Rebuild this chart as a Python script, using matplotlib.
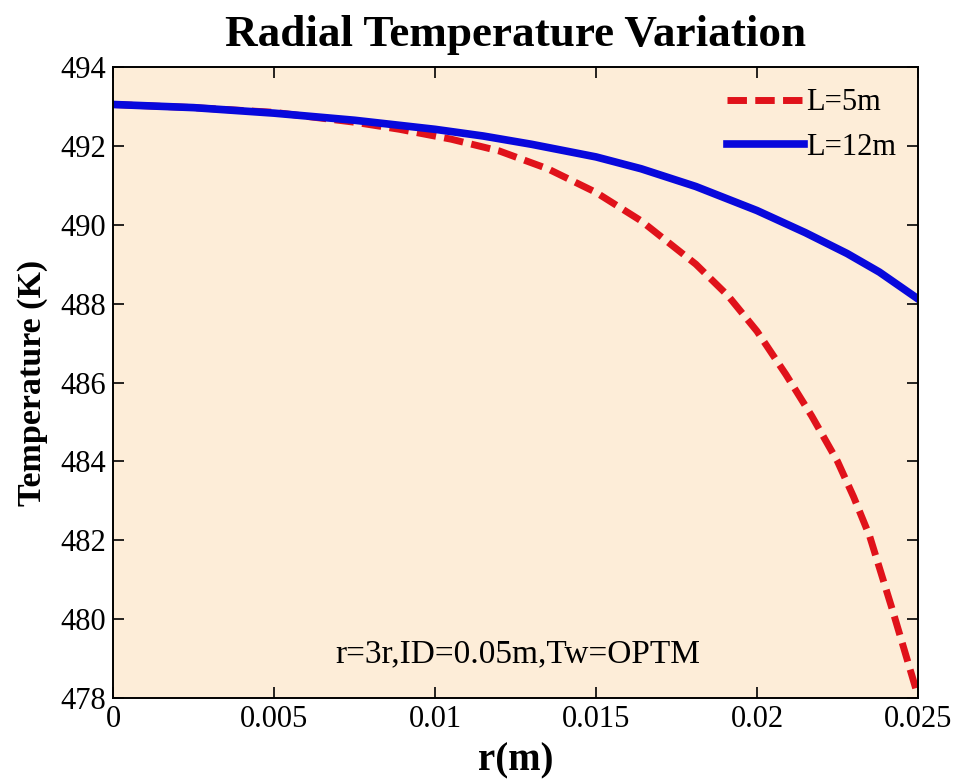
import matplotlib
matplotlib.use("Agg")
import matplotlib.pyplot as plt

# readings
r_5m = [0, 0.0025, 0.005, 0.0075, 0.0089, 0.0105, 0.012, 0.0135, 0.015, 0.0164, 0.0181, 0.0191, 0.02, 0.0209,
        0.0217, 0.0225, 0.023, 0.0235, 0.0242, 0.025]
T_5m = [493.05, 492.97, 492.85, 492.6, 492.42, 492.17, 491.87, 491.42, 490.82, 490.1, 489.0, 488.2, 487.3, 486.2,
        485.15, 484.0, 483.1, 482.1, 480.25, 478.05]

r_12m = [0, 0.0025, 0.005, 0.0075, 0.01, 0.0115, 0.013, 0.015, 0.0164, 0.0181, 0.02, 0.0215, 0.0228, 0.0238, 0.025]
T_12m = [493.05, 492.97, 492.83, 492.65, 492.42, 492.25, 492.04, 491.72, 491.42, 490.97, 490.36, 489.8, 489.27, 488.8, 488.12]

x_ticks = [0, 0.005, 0.01, 0.015, 0.02, 0.025]
x_tick_labels = ["0", "0.005", "0.01", "0.015", "0.02", "0.025"]
y_ticks = [478, 480, 482, 484, 486, 488, 490, 492, 494]

plt.rcParams['font.family'] = ['Liberation Serif', 'DejaVu Serif']

fig = plt.figure(figsize=(9.61, 7.81), dpi=100)
ax = fig.add_axes([113/961, 1 - 698/781, (918-113)/961, (698-67)/781])
ax.set_facecolor('#FDEDD8')

ax.plot(r_5m, T_5m, color='#E0121A', linestyle='--', lw=5.0, dashes=(2.8, 1.2), label='L=5m')
ax.plot(r_12m, T_12m, color='#0808DC', linestyle='-', lw=5.5, label='L=12m')

ax.set_xlim(0, 0.025)
ax.set_ylim(478, 494)
ax.set_xticks(x_ticks)
ax.set_xticklabels(x_tick_labels)
ax.set_yticks(y_ticks)
ax.tick_params(direction='in', top=True, right=True, length=8, width=1.2, labelsize=22, pad=5)
for s in ax.spines.values():
    s.set_linewidth(1.4)

ax.set_title('Radial Temperature Variation', fontsize=32.5, fontweight='bold', pad=15)
ax.set_xlabel('r(m)', fontsize=28, fontweight='bold', labelpad=6)
ax.set_ylabel('Temperature (K)', fontsize=24.5, fontweight='bold', labelpad=9)

ax.text(0.01258, 479.12, 'r=3r,ID=0.05m,Tw=OPTM', fontsize=24, ha='center', va='center')

leg = ax.legend(loc='upper right', frameon=False, fontsize=22, handlelength=2.5,
                handletextpad=0.1, borderpad=0.0, borderaxespad=0.7, labelspacing=0.5)

fig.savefig('out.png', dpi=100)
